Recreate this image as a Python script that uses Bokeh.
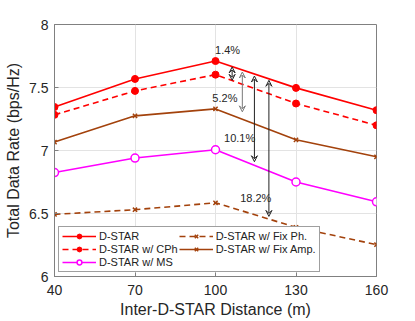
from bokeh.plotting import figure
from bokeh.models import Legend, LegendItem, Label, Arrow, VeeHead, FixedTicker
from bokeh.embed import file_html
from bokeh.resources import INLINE

distance = [40, 70, 100, 130, 160]
dstar = [7.345, 7.568, 7.71, 7.497, 7.32]
dstar_cph = [7.283, 7.473, 7.602, 7.373, 7.20]
dstar_ms = [6.825, 6.94, 7.006, 6.75, 6.593]
dstar_fixph = [6.493, 6.53, 6.585, 6.39, 6.253]
dstar_fixamp = [7.067, 7.275, 7.33, 7.085, 6.95]

# gap arrows: x position, top, bottom, label, label position
arrow_x = [106.2, 110.0, 114.5, 119.9]
arrow_top = [7.663, 7.623, 7.591, 7.557]
arrow_bot = [7.557, 7.307, 6.911, 6.477]
gap_labels = ["1.4%", "5.2%", "10.1%", "18.2%"]
gap_label_x = [104.5, 103.5, 109.0, 115.0]
gap_label_y = [7.80, 7.42, 7.10, 6.62]

BROWN = "#A3420C"
FONT = "Liberation Sans"

p = figure(width=410, height=320, output_backend="svg", toolbar_location=None,
           x_range=(40, 160), y_range=(6, 8),
           min_border_left=54, min_border_right=34, min_border_top=24, min_border_bottom=43,
           x_axis_label="Inter-D-STAR Distance (m)", y_axis_label="Total Data Rate (bps/Hz)")

p.xaxis.ticker = FixedTicker(ticks=distance)
p.yaxis.ticker = FixedTicker(ticks=[6, 6.5, 7, 7.5, 8])
for ax in (p.xaxis[0], p.yaxis[0]):
    ax.axis_label_text_font = FONT
    ax.axis_label_text_font_size = "16px"
    ax.axis_label_text_font_style = "normal"
    ax.axis_label_text_color = "#262626"
    ax.major_label_text_font = FONT
    ax.major_label_text_font_size = "14px"
    ax.major_label_text_color = "#262626"
    ax.axis_line_color = "#808080"
    ax.major_tick_line_color = "#808080"
    ax.major_tick_in = 4
    ax.major_tick_out = 0
    ax.minor_tick_line_color = None
p.xaxis.major_label_standoff = 8
p.xaxis.axis_label_standoff = 3
p.yaxis.major_label_standoff = 6
p.yaxis.axis_label_standoff = 4

p.grid.grid_line_color = "#e3e3e3"
p.outline_line_color = "#808080"
p.outline_line_alpha = 1.0
p.background_fill_color = "white"

r1 = [p.line(distance, dstar, line_color="red", line_width=1.6),
      p.scatter(distance, dstar, marker="circle", size=7, fill_color="red", line_color="red")]
r2 = [p.line(distance, dstar_cph, line_color="red", line_width=1.6, line_dash="6 4"),
      p.scatter(distance, dstar_cph, marker="circle", size=7, fill_color="red", line_color="red")]
r3 = [p.line(distance, dstar_ms, line_color="magenta", line_width=1.6),
      p.scatter(distance, dstar_ms, marker="circle", size=8, fill_color="white", line_color="magenta", line_width=1.5)]
r4 = [p.line(distance, dstar_fixph, line_color=BROWN, line_width=1.6, line_dash="6 4"),
      p.scatter(distance, dstar_fixph, marker="x", size=6, line_color=BROWN, line_width=1.5)]
r5 = [p.line(distance, dstar_fixamp, line_color=BROWN, line_width=1.6),
      p.scatter(distance, dstar_fixamp, marker="x", size=6, line_color=BROWN, line_width=1.5)]

for i in range(len(arrow_x)):
    col = "#7a7a7a" if i == 1 else "#222222"
    p.add_layout(Arrow(x_start=arrow_x[i], y_start=arrow_top[i], x_end=arrow_x[i], y_end=arrow_bot[i],
                       line_color=col, line_width=1,
                       start=VeeHead(size=6, line_color=col, line_width=1, fill_color=None),
                       end=VeeHead(size=6, line_color=col, line_width=1, fill_color=None)))
    p.add_layout(Label(x=gap_label_x[i], y=gap_label_y[i], text=gap_labels[i],
                       text_font=FONT, text_font_size="11px", text_color="#262626",
                       text_align="center", text_baseline="middle"))

legend = Legend(items=[
    LegendItem(label="D-STAR", renderers=r1),
    LegendItem(label="D-STAR w/ CPh", renderers=r2),
    LegendItem(label="D-STAR w/ MS", renderers=r3),
    LegendItem(label="D-STAR w/ Fix Ph.", renderers=r4),
    LegendItem(label="D-STAR w/ Fix Amp.", renderers=r5),
], location=(4, 4), nrows=3, orientation="vertical",
   label_text_font=FONT, label_text_font_size="11px", label_text_color="#222222",
   glyph_width=34, glyph_height=12, label_height=12, spacing=1, padding=3, margin=0,
   label_standoff=3, border_line_color="#404040", border_line_width=1,
   background_fill_alpha=1.0)
p.add_layout(legend)

open("out.html", "w").write(file_html(p, INLINE))
